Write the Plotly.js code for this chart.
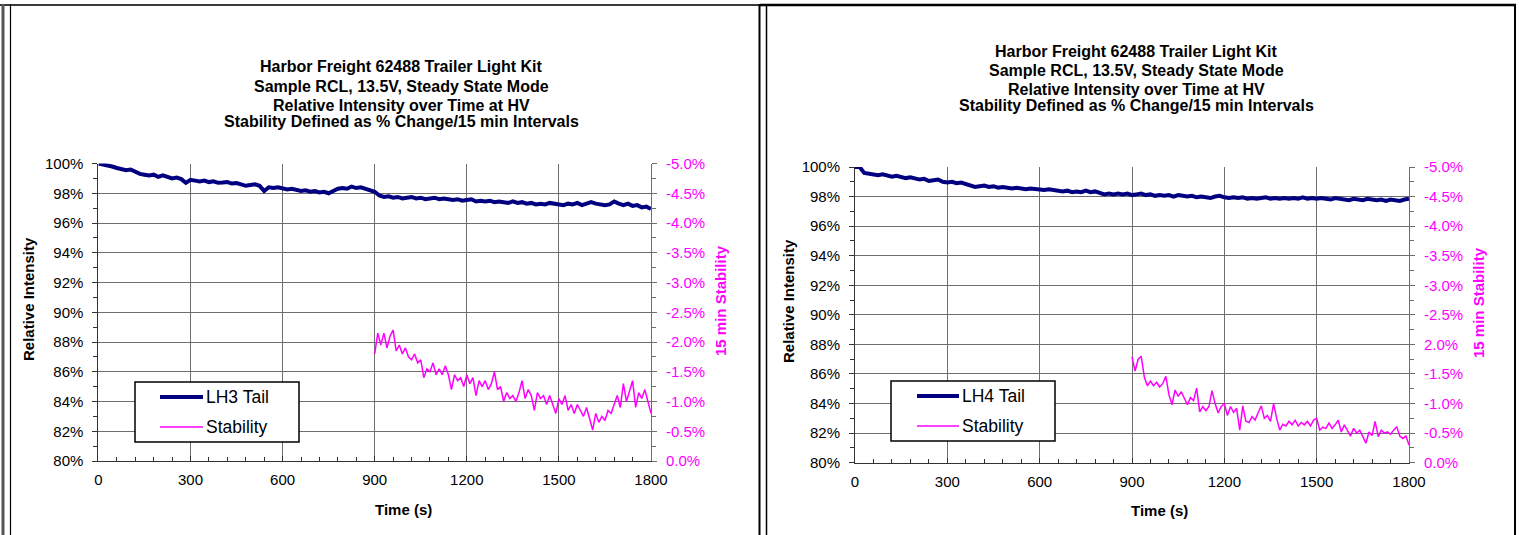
<!DOCTYPE html>
<html>
<head>
<meta charset="utf-8">
<script src="https://cdn.plot.ly/plotly-3.0.1.min.js"></script>
<style>html,body{margin:0;padding:0;background:#fff}#chart{width:1519px;height:535px}</style>
</head>
<body>
<div id="chart"></div>
<script>
// ---------------- DATA ----------------
const titleLines = [
  "Harbor Freight 62488 Trailer Light Kit",
  "Sample RCL, 13.5V, Steady State Mode",
  "Relative Intensity over Time at HV",
  "Stability Defined as % Change/15 min Intervals"
];
const seriesNameLeft = "LH3 Tail";
const seriesNameRight = "LH4 Tail";
const stabilityName = "Stability";
const xTitle = "Time (s)";
const yTitle = "Relative Intensity";
const y2Title = "15 min Stability";

// intensity sample times (s), every 15 s
const timeIntensity = [0,15,30,45,60,75,90,105,120,135,150,165,180,195,210,225,240,255,270,285,300,315,330,345,360,375,390,405,420,435,450,465,480,495,510,525,540,555,570,585,600,615,630,645,660,675,690,705,720,735,750,765,780,795,810,825,840,855,870,885,900,915,930,945,960,975,990,1005,1020,1035,1050,1065,1080,1095,1110,1125,1140,1155,1170,1185,1200,1215,1230,1245,1260,1275,1290,1305,1320,1335,1350,1365,1380,1395,1410,1425,1440,1455,1470,1485,1500,1515,1530,1545,1560,1575,1590,1605,1620,1635,1650,1665,1680,1695,1710,1725,1740,1755,1770,1785,1800];

// LH3 Tail relative intensity (%)
const lh3Intensity = [100.0,99.95,99.85,99.8,99.7,99.65,99.55,99.6,99.45,99.3,99.25,99.2,99.25,99.1,99.2,99.1,99.0,99.05,98.95,98.7,98.9,98.85,98.8,98.85,98.75,98.8,98.7,98.72,98.75,98.65,98.68,98.6,98.5,98.55,98.6,98.5,98.15,98.4,98.35,98.4,98.3,98.25,98.3,98.2,98.15,98.2,98.1,98.15,98.05,98.1,98.0,98.15,98.3,98.35,98.3,98.45,98.35,98.4,98.3,98.2,98.1,97.85,97.75,97.8,97.7,97.75,97.65,97.7,97.75,97.65,97.7,97.6,97.65,97.7,97.6,97.65,97.6,97.55,97.6,97.5,97.55,97.6,97.45,97.5,97.45,97.5,97.4,97.45,97.4,97.35,97.45,97.35,97.4,97.3,97.35,97.25,97.3,97.25,97.35,97.3,97.3,97.2,97.3,97.25,97.35,97.2,97.3,97.4,97.3,97.25,97.2,97.25,97.45,97.3,97.2,97.3,97.15,97.2,97.05,97.1,96.95];

// LH4 Tail relative intensity (%)
const lh4Intensity = [100.0,100.0,99.6,99.55,99.5,99.45,99.5,99.4,99.35,99.4,99.3,99.25,99.3,99.2,99.15,99.2,99.05,99.1,99.15,99.0,98.95,99.0,98.9,98.95,98.85,98.8,98.65,98.7,98.75,98.65,98.7,98.6,98.65,98.6,98.55,98.6,98.55,98.5,98.55,98.5,98.5,98.45,98.5,98.45,98.4,98.35,98.4,98.3,98.35,98.3,98.4,98.3,98.35,98.25,98.15,98.2,98.15,98.2,98.15,98.2,98.1,98.15,98.2,98.1,98.15,98.05,98.1,98.05,98.1,98.0,98.1,98.05,98.0,98.05,97.95,98.0,97.95,97.9,98.0,98.05,97.95,97.9,97.95,97.9,97.95,97.85,97.9,97.85,97.9,97.95,97.85,97.9,97.85,97.9,97.85,97.9,97.85,97.95,97.85,97.9,97.85,97.9,97.85,97.8,97.9,97.85,97.8,97.75,97.85,97.8,97.75,97.85,97.8,97.75,97.8,97.7,97.8,97.75,97.7,97.8,97.85];

// stability sample times (s), every 10 s from 900
const timeStability = [900,910,920,930,940,950,960,970,980,990,1000,1010,1020,1030,1040,1050,1060,1070,1080,1090,1100,1110,1120,1130,1140,1150,1160,1170,1180,1190,1200,1210,1220,1230,1240,1250,1260,1270,1280,1290,1300,1310,1320,1330,1340,1350,1360,1370,1380,1390,1400,1410,1420,1430,1440,1450,1460,1470,1480,1490,1500,1510,1520,1530,1540,1550,1560,1570,1580,1590,1600,1610,1620,1630,1640,1650,1660,1670,1680,1690,1700,1710,1720,1730,1740,1750,1760,1770,1780,1790,1800];

// 15 min stability (% change)
const lh3Stability = [-1.80,-2.15,-1.95,-2.15,-1.90,-2.10,-2.20,-1.85,-1.95,-1.80,-1.90,-1.75,-1.70,-1.80,-1.65,-1.70,-1.40,-1.55,-1.50,-1.65,-1.45,-1.55,-1.45,-1.60,-1.45,-1.20,-1.45,-1.35,-1.40,-1.25,-1.45,-1.30,-1.40,-1.10,-1.35,-1.25,-1.35,-1.20,-1.30,-1.50,-1.20,-1.25,-1.00,-1.15,-1.05,-1.10,-1.00,-1.15,-1.35,-1.05,-1.20,-1.10,-0.85,-1.15,-1.05,-1.10,-0.95,-1.10,-0.95,-0.80,-1.05,-0.95,-1.10,-0.85,-0.95,-0.80,-0.95,-0.85,-0.75,-0.90,-0.70,-0.52,-0.80,-0.65,-0.75,-0.68,-0.85,-0.80,-0.95,-1.10,-0.90,-1.30,-1.00,-1.20,-1.35,-0.90,-1.15,-1.05,-1.20,-1.00,-0.80];
const lh4Stability = [-1.79,-1.55,-1.75,-1.80,-1.45,-1.30,-1.38,-1.30,-1.36,-1.28,-1.34,-1.46,-1.15,-0.98,-1.23,-1.12,-1.20,-1.08,-0.98,-1.10,-1.05,-1.26,-0.86,-0.95,-0.88,-0.95,-1.22,-1.00,-0.84,-0.95,-1.00,-0.80,-0.95,-0.85,-0.92,-0.55,-0.96,-0.70,-0.68,-0.78,-0.72,-0.85,-0.96,-0.75,-0.80,-0.70,-1.00,-0.75,-0.55,-0.65,-0.62,-0.70,-0.64,-0.72,-0.62,-0.68,-0.64,-0.70,-0.62,-0.72,-0.75,-0.55,-0.60,-0.58,-0.67,-0.58,-0.64,-0.72,-0.52,-0.64,-0.55,-0.45,-0.58,-0.50,-0.55,-0.45,-0.33,-0.52,-0.46,-0.70,-0.44,-0.55,-0.50,-0.52,-0.48,-0.55,-0.61,-0.45,-0.41,-0.45,-0.30];

// axis ticks
const xTickVals = [0,300,600,900,1200,1500,1800];
const yTickVals = [80,82,84,86,88,90,92,94,96,98,100];
const yTickText = ["80%","82%","84%","86%","88%","90%","92%","94%","96%","98%","100%"];
const y2TickVals = [-5.0,-4.5,-4.0,-3.5,-3.0,-2.5,-2.0,-1.5,-1.0,-0.5,0.0];
const y2TickTextLeft = ["-5.0%","-4.5%","-4.0%","-3.5%","-3.0%","-2.5%","-2.0%","-1.5%","-1.0%","-0.5%","0.0%"];
const y2TickTextRight = ["-5.0%","-4.5%","-4.0%","-3.5%","-3.0%","-2.5%","2.0%","-1.5%","-1.0%","-0.5%","0.0%"];

// ---------------- STYLE / LAYOUT ----------------
const W = 1519, H = 535;
const fx = p => p / W;
const fy = p => 1 - p / H;
const NAVY = '#000080', MAG = '#FF00FF', GRID = '#6e6e6e', AX = '#333333';
const FONT = 'Liberation Sans, Arial, sans-serif';

function xAxis(domain, anchor) {
  return {
    domain: domain, anchor: anchor, range: [0, 1800],
    tickmode: 'array', tickvals: xTickVals,
    showgrid: true, gridcolor: GRID, gridwidth: 1,
    showline: true, linecolor: AX, linewidth: 1,
    ticks: 'inside', ticklen: 5, tickcolor: AX,
    minor: {dtick: 60, tick0: 0, ticks: 'inside', ticklen: 4, tickcolor: AX, showgrid: false},
    tickfont: {family: FONT, size: 15, color: '#000'},
    ticklabelstandoff: 5,
    zeroline: false, fixedrange: true, automargin: false
  };
}
function yAxis(domain, anchor) {
  return {
    domain: domain, anchor: anchor, range: [80, 100],
    tickmode: 'array', tickvals: yTickVals, ticktext: yTickText,
    showgrid: true, gridcolor: GRID, gridwidth: 1,
    showline: true, linecolor: AX, linewidth: 1,
    ticks: 'outside', ticklen: 5, tickcolor: AX,
    minor: {dtick: 1, tick0: 80, ticks: 'outside', ticklen: 4, tickcolor: AX, showgrid: false},
    tickfont: {family: FONT, size: 15, color: '#000'},
    ticklabelstandoff: 6,
    zeroline: false, fixedrange: true, automargin: false
  };
}
function y2Axis(overlay, anchor, ticktext) {
  return {
    overlaying: overlay, anchor: anchor, side: 'right', range: [0, -5],
    tickmode: 'array', tickvals: y2TickVals, ticktext: ticktext,
    showgrid: false, showline: true, linecolor: GRID, linewidth: 1,
    ticks: 'outside', ticklen: 5, tickcolor: GRID,
    minor: {dtick: 0.25, tick0: 0, ticks: 'outside', ticklen: 4, tickcolor: GRID, showgrid: false},
    tickfont: {family: FONT, size: 15, color: MAG},
    ticklabelstandoff: 6,
    zeroline: false, fixedrange: true, automargin: false
  };
}

const traces = [
  {x: timeIntensity, y: lh3Intensity, name: seriesNameLeft, type: 'scatter', mode: 'lines',
   xaxis: 'x', yaxis: 'y', line: {color: NAVY, width: 4}, showlegend: false},
  {x: timeStability, y: lh3Stability, name: stabilityName, type: 'scatter', mode: 'lines',
   xaxis: 'x', yaxis: 'y2', line: {color: MAG, width: 1.5}, showlegend: false},
  {x: timeIntensity, y: lh4Intensity, name: seriesNameRight, type: 'scatter', mode: 'lines',
   xaxis: 'x2', yaxis: 'y3', line: {color: NAVY, width: 4}, showlegend: false},
  {x: timeStability, y: lh4Stability, name: stabilityName, type: 'scatter', mode: 'lines',
   xaxis: 'x2', yaxis: 'y4', line: {color: MAG, width: 1.5}, showlegend: false}
];

const annotations = [];
const shapes = [];
function ann(text, x, y, opts) {
  annotations.push(Object.assign({text: text, x: fx(x), y: fy(y), xref: 'paper', yref: 'paper',
    showarrow: false, xanchor: 'center', yanchor: 'middle',
    font: {family: FONT, size: 15, color: '#000'}}, opts || {}));
}
// panel titles
const leftTitleY = [67, 87, 106, 121.5];
const rightTitleY = [51, 70, 89.3, 106];
titleLines.forEach((t, i) => {
  ann(t, 401, leftTitleY[i], {font: {family: FONT, size: 16, color: '#000', weight: 700}});
  ann(t, 1136, rightTitleY[i], {font: {family: FONT, size: 16, color: '#000', weight: 700}});
});
// axis titles
const boldF = {family: FONT, size: 15, color: '#000', weight: 700};
ann(xTitle, 403, 509, {font: boldF});
ann(xTitle, 1159.5, 510, {font: boldF});
ann(yTitle, 28, 299, {font: boldF, textangle: -90});
ann(yTitle, 788, 301, {font: boldF, textangle: -90});
ann(y2Title, 720, 301, {font: Object.assign({}, boldF, {color: MAG}), textangle: -90});
ann(y2Title, 1478, 303, {font: Object.assign({}, boldF, {color: MAG}), textangle: -90});

// legends (drawn boxes)
function legendBox(x0, y0, x1, y1, lx0, lx1, ly1, ly2, name1) {
  shapes.push({type: 'rect', xref: 'paper', yref: 'paper', x0: fx(x0), x1: fx(x1), y0: fy(y1), y1: fy(y0),
    fillcolor: '#fff', line: {color: '#000', width: 1.5}, layer: 'above'});
  shapes.push({type: 'line', xref: 'paper', yref: 'paper', x0: fx(lx0), x1: fx(lx1), y0: fy(ly1), y1: fy(ly1),
    line: {color: NAVY, width: 4}, layer: 'above'});
  shapes.push({type: 'line', xref: 'paper', yref: 'paper', x0: fx(lx0), x1: fx(lx1), y0: fy(ly2), y1: fy(ly2),
    line: {color: MAG, width: 1.5}, layer: 'above'});
  ann(name1, lx1 + 1, ly1, {xanchor: 'left', font: {family: FONT, size: 17.5, color: '#000'}});
  ann(stabilityName, lx1 + 1, ly2, {xanchor: 'left', font: {family: FONT, size: 17.5, color: '#000'}});
}
legendBox(135, 382, 299, 442, 160, 203, 397, 427, seriesNameLeft);
legendBox(891, 381, 1055, 441, 917, 959, 396, 426, seriesNameRight);

// page / cell borders
function vline(x, color, width) {
  shapes.push({type: 'line', xref: 'paper', yref: 'paper', x0: fx(x), x1: fx(x), y0: fy(535), y1: fy(4),
    line: {color: color, width: width}, layer: 'above'});
}
shapes.push({type: 'line', xref: 'paper', yref: 'paper', x0: 0, x1: fx(760), y0: fy(5), y1: fy(5),
  line: {color: '#3a3a3a', width: 2}, layer: 'above'});
shapes.push({type: 'line', xref: 'paper', yref: 'paper', x0: fx(760), x1: fx(1516), y0: fy(5), y1: fy(5),
  line: {color: '#000', width: 2.5}, layer: 'above'});
vline(3, '#555', 3);
vline(10.5, '#000', 1.2);
vline(759.5, '#000', 2);
vline(766.5, '#000', 1.5);
vline(1515, '#000', 2);

const layout = {
  width: W, height: H,
  margin: {l: 0, r: 0, t: 0, b: 0, pad: 0},
  paper_bgcolor: '#fff', plot_bgcolor: 'rgba(0,0,0,0)',
  font: {family: FONT, size: 15, color: '#000'},
  showlegend: false,
  xaxis: xAxis([fx(98.4), fx(651)], 'y'),
  yaxis: yAxis([fy(461), fy(163.5)], 'x'),
  yaxis2: y2Axis('y', 'x', y2TickTextLeft),
  xaxis2: xAxis([fx(855), fx(1409)], 'y3'),
  yaxis3: yAxis([fy(462.7), fy(167)], 'x2'),
  yaxis4: y2Axis('y3', 'x2', y2TickTextRight),
  annotations: annotations,
  shapes: shapes
};

Plotly.newPlot('chart', traces, layout, {displayModeBar: false, staticPlot: true});
</script>
</body>
</html>
